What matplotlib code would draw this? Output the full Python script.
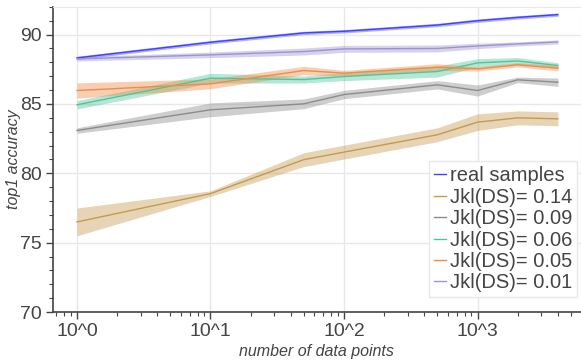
import matplotlib
matplotlib.use('Agg')
import matplotlib.pyplot as plt
import numpy as np
from matplotlib.ticker import FixedLocator, MultipleLocator, LogLocator, NullFormatter

plt.rcParams['font.family'] = ['Liberation Sans', 'DejaVu Sans']

# data
n_points = [1, 10, 50, 100, 500, 1000, 2000, 4000]

labels = ['real samples', 'Jkl(DS)= 0.14', 'Jkl(DS)= 0.09',
          'Jkl(DS)= 0.06', 'Jkl(DS)= 0.05', 'Jkl(DS)= 0.01']
colors = ['#4040ff', '#c49a50', '#8c8c8c', '#52c49c', '#ee8c48', '#9c94d2']

real_mean = [88.32, 89.45, 90.12, 90.24, 90.69, 91.00, 91.24, 91.44]
real_err = [0.12, 0.12, 0.12, 0.12, 0.12, 0.12, 0.12, 0.12]

j014_mean = [76.5, 78.54, 80.99, 81.53, 82.78, 83.69, 84.00, 83.93]
j014_err = [1.0, 0.2, 0.5, 0.5, 0.5, 0.6, 0.5, 0.5]

j009_mean = [83.09, 84.58, 85.01, 85.68, 86.38, 85.97, 86.74, 86.57]
j009_err = [0.2, 0.5, 0.35, 0.3, 0.3, 0.4, 0.2, 0.3]

j006_mean = [84.94, 86.86, 86.76, 86.98, 87.34, 87.96, 88.10, 87.77]
j006_err = [0.3, 0.35, 0.25, 0.3, 0.4, 0.3, 0.25, 0.2]

j005_mean = [85.97, 86.45, 87.41, 87.22, 87.65, 87.53, 87.82, 87.58]
j005_err = [0.55, 0.35, 0.3, 0.2, 0.25, 0.15, 0.15, 0.2]

j001_mean = [88.25, 88.54, 88.78, 88.97, 89.00, 89.18, 89.33, 89.47]
j001_err = [0.15, 0.2, 0.25, 0.25, 0.25, 0.2, 0.15, 0.15]

means = [real_mean, j014_mean, j009_mean, j006_mean, j005_mean, j001_mean]
errs = [real_err, j014_err, j009_err, j006_err, j005_err, j001_err]

fig = plt.figure(figsize=(5.81, 3.6), dpi=100)
ax = fig.add_axes([0.091, 0.133, 0.909, 0.848])

x = np.array(n_points)
for m, e, c, lab in zip(means, errs, colors, labels):
    m = np.array(m)
    e = np.array(e)
    ax.fill_between(x, m - e, m + e, color=c, alpha=0.42, linewidth=0)
    ax.plot(x, m, color=c, linewidth=1.0, label=lab)

ax.set_xscale('log')
ax.set_xlim(0.66, 5957)
ax.set_ylim(70, 92)

ax.xaxis.set_major_locator(FixedLocator([1, 10, 100, 1000]))
ax.set_xticklabels(['10^0', '10^1', '10^2', '10^3'])
ax.xaxis.set_minor_locator(LogLocator(base=10, subs=np.arange(2, 10)))
ax.xaxis.set_minor_formatter(NullFormatter())
ax.yaxis.set_major_locator(MultipleLocator(5))
ax.yaxis.set_minor_locator(MultipleLocator(1))

ax.grid(True, which='major', color='#e8e8e8', linewidth=1)
ax.set_axisbelow(True)
for s in ['top', 'right']:
    ax.spines[s].set_color('#e8e8e8')
for s in ['left', 'bottom']:
    ax.spines[s].set_color('#444444')
    ax.spines[s].set_linewidth(1.2)

ax.tick_params(which='major', length=5, width=1, colors='#444444', labelsize=14,
               labelcolor='#444444', pad=3)
ax.tick_params(which='minor', length=3, width=0.8, colors='#444444')

ax.set_xlabel('number of data points', fontsize=11.5, style='italic', color='#444444')
ax.set_ylabel('top1 accuracy', fontsize=11.5, style='italic', color='#444444')
ax.xaxis.set_label_coords(0.5, -0.103)
ax.yaxis.set_label_coords(-0.061, 0.5)

leg = ax.legend(loc='lower right', bbox_to_anchor=(0.993, 0.048), fontsize=14.5,
                handlelength=0.6, handletextpad=0.2, borderpad=0.25, labelspacing=0.12,
                borderaxespad=0, fancybox=False, framealpha=1, edgecolor='#e8e8e8')
for t in leg.get_texts():
    t.set_color('#444444')

fig.savefig('out.png', dpi=100)
